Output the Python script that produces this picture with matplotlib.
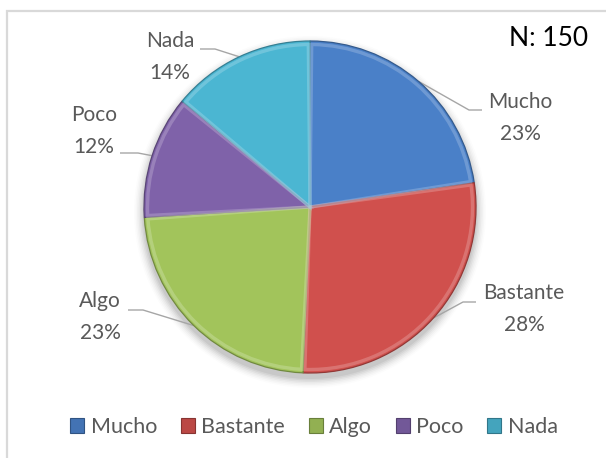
import matplotlib
matplotlib.use("Agg")
import matplotlib.pyplot as plt
from matplotlib.patches import Patch, Wedge, Circle
import matplotlib.colors as mcolors
import numpy as np

# ---------------- data ----------------
categories = ["Mucho", "Bastante", "Algo", "Poco", "Nada"]
counts = [34, 42, 35, 18, 21]
total_n = 150
colors = ["#4A80C8", "#D0504D", "#A2C45B", "#7F62A9", "#4BB6D2"]

# ---------------- layout (pixel space) ----------------
W, H = 606, 458
FONT = "Lato"
plt.rcParams["font.family"] = [FONT, "DejaVu Sans"]
GRAY = "#595959"

fig = plt.figure(figsize=(W / 100, H / 100), dpi=100)
ax = fig.add_axes([0, 0, 1, 1])

def Y(y):
    return H - y

cx, cy, R = 310, Y(207), 166

# soft shadow under the pie
for i, a in enumerate(np.linspace(0.05, 0.012, 7)):
    ax.add_patch(Circle((cx, cy - 5), R + 1 + i * 1.5, facecolor="#000000",
                        edgecolor="none", alpha=a, zorder=0))

wedges, _ = ax.pie(counts, colors=colors, startangle=90, counterclock=False,
                   center=(cx, cy), radius=R,
                   wedgeprops=dict(linewidth=0))

# bevel effect
for w, c in zip(wedges, colors):
    rgb = np.array(mcolors.to_rgb(c))
    dark = rgb * 0.7
    light = rgb + (1 - rgb) * 0.45
    w.set_edgecolor(dark)
    w.set_linewidth(0.9)
    w.set_zorder(2)
    inner = Wedge((cx, cy), R - 3.5, w.theta1 + 0.6, w.theta2 - 0.6,
                  facecolor="none", edgecolor=light, linewidth=2.4,
                  alpha=0.45, zorder=3)
    ax.add_patch(inner)

# data labels with leader lines
label_pos = [(520, 118), (524, 309), (100, 317), (94, 131), (170, 57)]
elbows = [((469, 110), (482, 110)),
          ((463, 302), (476, 302)),
          ((143, 310), (128, 310)),
          ((138, 153), (120, 153)),
          ((215, 49), (200, 49))]
tot = sum(counts)
for w, cat, cnt, (lx, ly), (e1, e2) in zip(wedges, categories, counts, label_pos, elbows):
    mid = np.deg2rad((w.theta1 + w.theta2) / 2)
    px, py = cx + R * np.cos(mid), cy + R * np.sin(mid)
    ax.plot([px, e1[0], e2[0]], [py, Y(e1[1]), Y(e2[1])], color="#A6A6A6",
            linewidth=1.0, zorder=1, solid_capstyle="butt")
    pct = round(100 * cnt / tot)
    ax.text(lx, Y(ly), f"{cat}\n{pct}%", ha="center", va="center",
            fontsize=15, color=GRAY, linespacing=1.7, zorder=5)

# N label
ax.text(549, Y(39), f"N: {total_n}", ha="center", va="center",
        fontsize=19, color="black", zorder=5)

# border (top and left visible)
ax.plot([7, 7, W + 5], [Y(H + 5), Y(11), Y(11)], color="#D9D9D9",
        linewidth=1.6, zorder=0, solid_joinstyle="miter")

ax.set_xlim(0, W)
ax.set_ylim(0, H)
ax.set_aspect("auto")
ax.axis("off")

# legend
handles = []
for c in colors:
    rgb = np.array(mcolors.to_rgb(c))
    handles.append(Patch(facecolor=rgb * 0.9, edgecolor=rgb * 0.65, linewidth=0.8))
fig.legend(handles, categories, loc="center", bbox_to_anchor=(314 / W, 1 - 427 / H),
           ncol=5, frameon=False, fontsize=15.5, labelcolor=GRAY,
           handlelength=0.65, handleheight=0.65, handletextpad=0.3,
           columnspacing=1.1, borderaxespad=0)

fig.savefig("out.png", dpi=100)
